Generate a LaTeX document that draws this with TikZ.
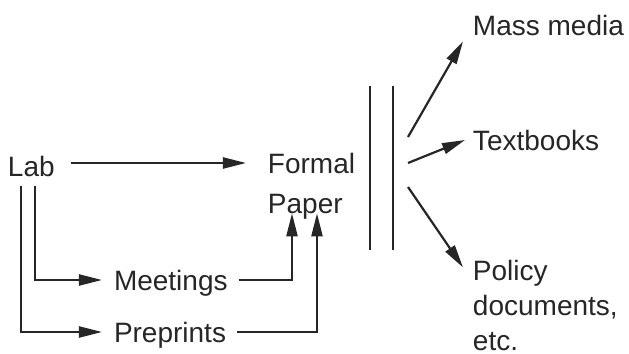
\documentclass[tikz,border=0pt]{standalone}
\usepackage{fontspec}
\setmainfont{Liberation Sans}
\usetikzlibrary{arrows.meta}
\definecolor{ink}{HTML}{262626}
\tikzset{
  txt/.style={inner sep=0pt, outer sep=0pt, text=ink, font=\fontsize{14}{17.5}\selectfont, text height=10pt, text depth=0pt},
  conn/.style={draw=ink, line width=1.1pt},
  arr/.style={conn, -{Triangle[length=11.5pt,width=5.5pt]}},
  bar/.style={draw=ink, line width=1.2pt}
}
\begin{document}
\begin{tikzpicture}[x=0.5pt, y=-0.5pt]
\useasboundingbox (0,0) rectangle (629,354);
% nodes
\node[txt, anchor=west] (lab) at (8,166) {Lab};
\node[txt, anchor=north west, align=left, font=\fontsize{14}{20}\selectfont, text height=] (fp) at (268,153) {Formal\\Paper};
\node[txt, anchor=west] (meet) at (114,280) {Meetings};
\node[txt, anchor=west] (pre) at (114,332) {Preprints};
\node[txt, anchor=west] (mm) at (473,25) {Mass media};
\node[txt, anchor=west] (tb) at (473,140) {Textbooks};
\node[txt, anchor=north west, align=left, text height=, text depth=] (pol) at (473,260) {Policy\\documents,\\etc.};
% bars
\draw[bar] (370,86) -- (370,250);
\draw[bar] (393,86) -- (393,250);
% free ends
\coordinate (s1) at (408,137);
\coordinate (s2) at (408,163);
\coordinate (s3) at (408,187);
% connectors
\draw[arr] ([xshift=8pt,yshift=1.5pt]lab.east) -- ([xshift=-11pt,yshift=1.5pt]lab.east -| fp.west);
\draw[arr, shorten <=5pt, shorten >=6pt] ([xshift=2pt]lab.south) |- (meet.west);
\draw[arr, shorten <=5pt, shorten >=6pt] ([xshift=-5pt]lab.south) |- (pre.west);
\draw[arr, shorten <=5.5pt] (meet.east) -| ([xshift=12pt]fp.south west);
\draw[arr, shorten <=5.5pt] (pre.east) -| ([xshift=24.5pt]fp.south west);
\draw[arr] (s1) -- ([xshift=-5pt,yshift=-3.2pt]mm.south west);
\draw[arr] (s2) -- ([xshift=-4pt]tb.west);
\draw[arr] (s3) -- ([xshift=-5pt,yshift=-3.7pt]pol.north west);
\end{tikzpicture}
\end{document}
